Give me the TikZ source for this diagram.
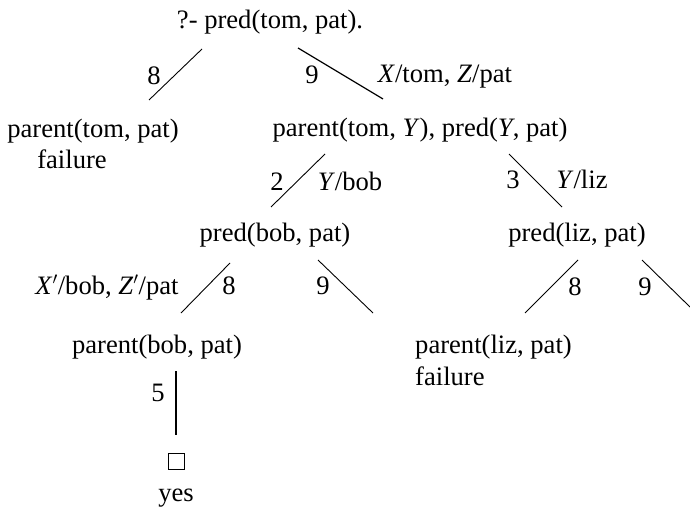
\documentclass[tikz,border=0pt]{standalone}
\usepackage{fontspec}
\setmainfont{Liberation Serif}
\begin{document}
\begin{tikzpicture}[x=1pt,y=-1pt,
  every node/.style={inner sep=0pt,font=\fontsize{26.6}{32}\selectfont},
  txt/.style={anchor=base},
  lbl/.style={anchor=base},
  edge/.style={line width=0.9pt},
  thickedge/.style={line width=2.6pt},
  emptybox/.style={draw,line width=0.9pt,minimum width=16pt,minimum height=16pt}]
\useasboundingbox (0,0) rectangle (690,508);
% goal nodes
\node[txt] (root) at (270,29) {?- pred(tom, pat).};
\node[txt] (n1) at (93,137) {parent(tom, pat)};
\node[txt] (f1) at (72,168) {failure};
\node[txt] (n2) at (420,136) {parent(tom, \textit{Y}\/), pred(\textit{Y}, pat)};
\node[txt] (n3) at (275,241) {pred(bob, pat)};
\node[txt] (n4) at (577,241) {pred(liz, pat)};
\node[txt] (n5) at (157,353) {parent(bob, pat)};
\node[txt,anchor=base west] (n6) at (415,353) {parent(liz, pat)};
\node[txt,anchor=base west] (f2) at (415,385) {failure};
\node[emptybox] (box) at (176,461.5) {};
\node[txt] (yes) at (176,501) {yes};
% edge end points
\coordinate (a1) at (202,49);  \coordinate (a2) at (149,100);
\coordinate (b1) at (298,48);  \coordinate (b2) at (383,99);
\coordinate (c1) at (325,154); \coordinate (c2) at (271,207);
\coordinate (d1) at (509,154); \coordinate (d2) at (562,207);
\coordinate (e1) at (230,263); \coordinate (e2) at (181,313);
\coordinate (g1) at (318,260); \coordinate (g2) at (373,313);
\coordinate (h1) at (578,260); \coordinate (h2) at (525,313);
\coordinate (k1) at (642,260); \coordinate (k2) at (690,307);
\coordinate (m1) at (176,371); \coordinate (m2) at (176,435);
% edges
\draw[edge] (a1) -- (a2);
\draw[edge,line width=1.2pt] (b1) -- (b2);
\draw[edge] (c1) -- (c2);
\draw[edge] (d1) -- (d2);
\draw[edge] (e1) -- (e2);
\draw[edge] (g1) -- (g2);
\draw[edge] (h1) -- (h2);
\draw[edge] (k1) -- (k2);
\draw[thickedge] (m1) -- (m2);
% labels
\node[lbl] (l8a) at (154,85) {8};
\node[lbl] (l9a) at (312,84) {9};
\node[lbl] (s9a) at (445,83) {\textit{X}/tom, \textit{Z}/pat};
\node[lbl] (l2) at (277,190) {2};
\node[lbl] (s2) at (350,190) {\textit{Y}/bob};
\node[lbl] (l3) at (513,188) {3};
\node[lbl] (s3) at (582,188) {\textit{Y}/liz};
\node[lbl] (s8b) at (107,294) {\textit{X}$'$/bob, \textit{Z}$'$/pat};
\node[lbl] (l8b) at (229,294) {8};
\node[lbl] (l9b) at (323,294) {9};
\node[lbl] (l8c) at (575,295) {8};
\node[lbl] (l9c) at (645,295) {9};
\node[lbl] (l5) at (158,401) {5};
\end{tikzpicture}
\end{document}
